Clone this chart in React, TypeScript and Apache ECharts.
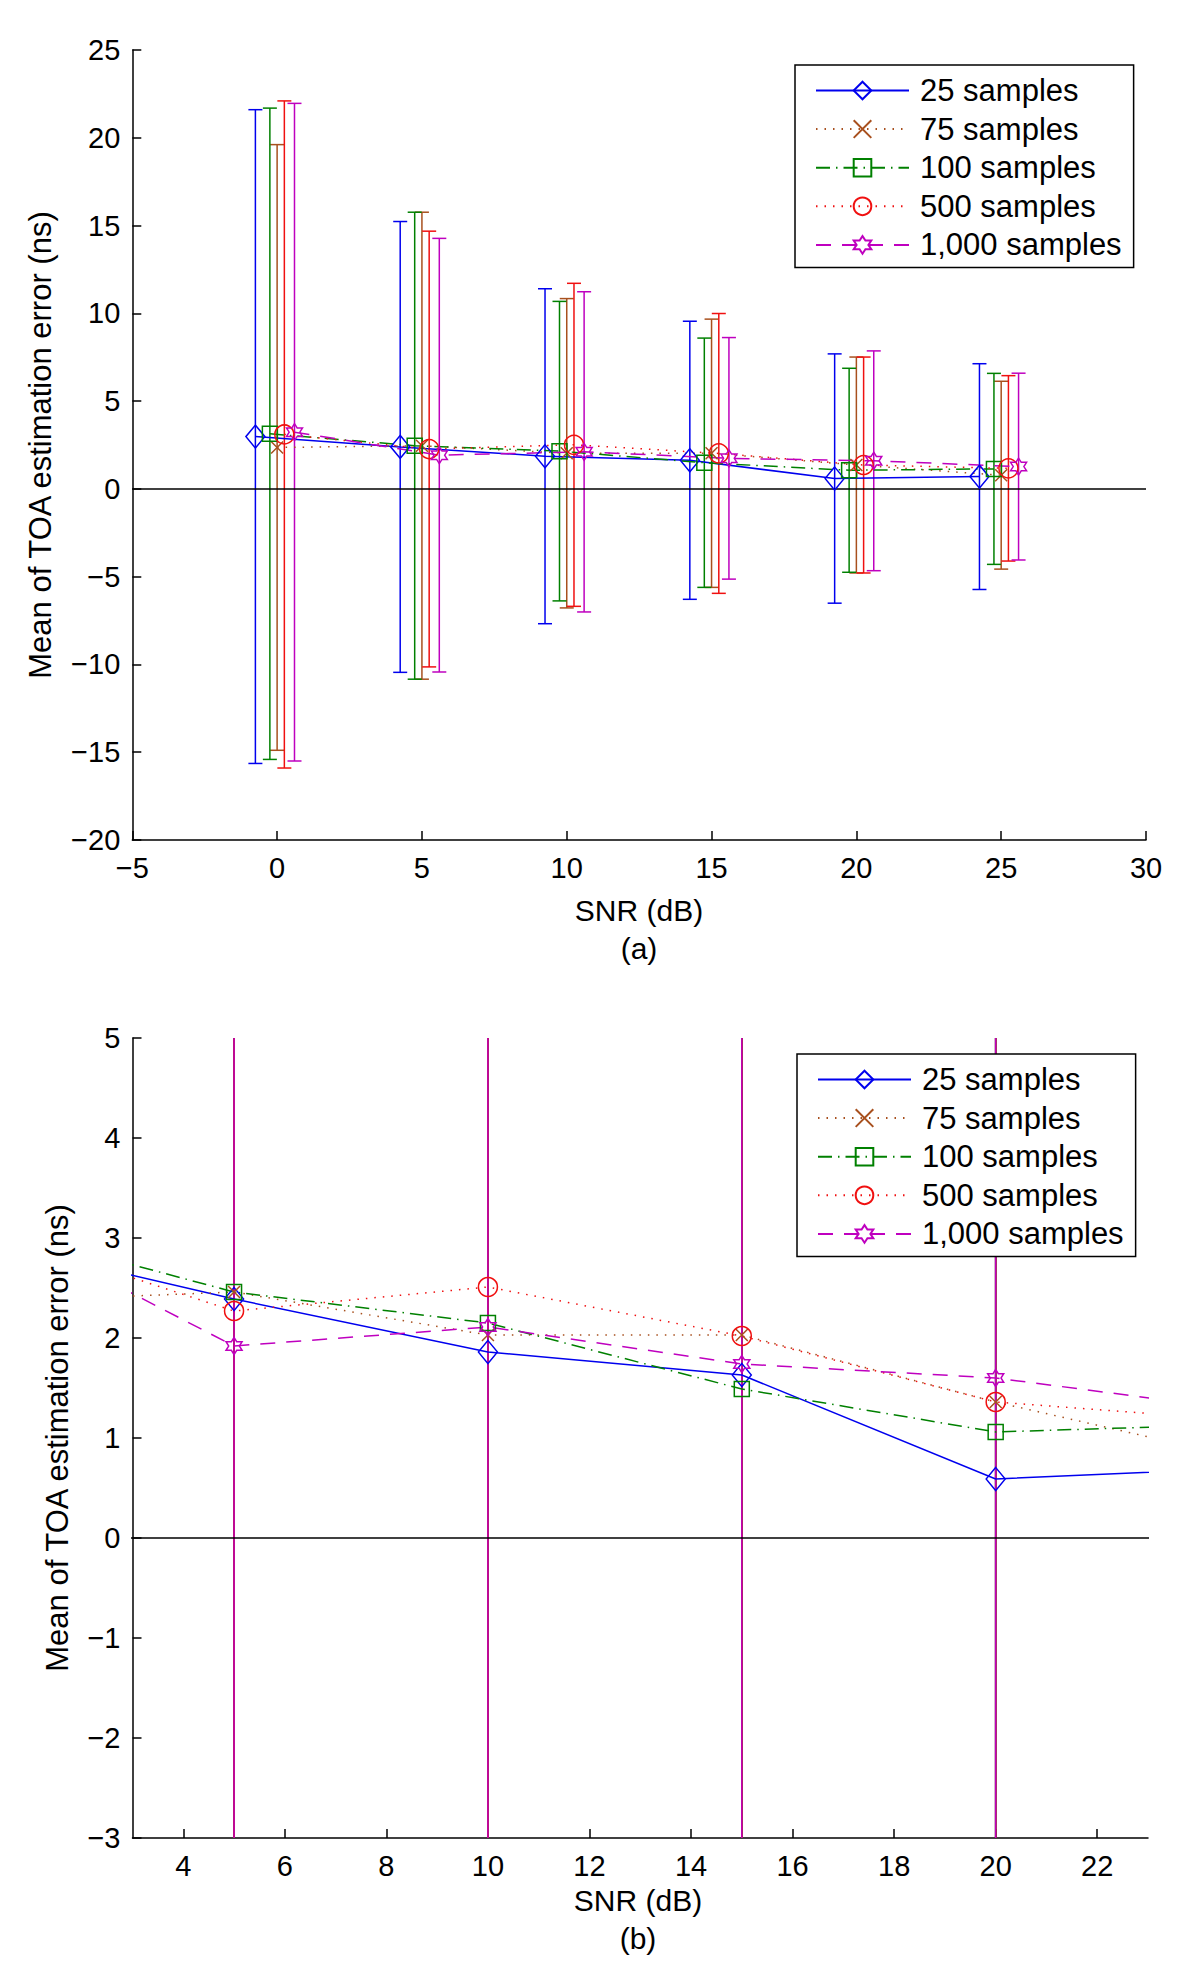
import React, { useEffect, useRef } from 'react';
import * as echarts from 'echarts';

// ---------- data ----------
const SNR = [0, 5, 10, 15, 20, 25];
const SERIES_NAMES = ['25 samples', '75 samples', '100 samples', '500 samples', '1,000 samples'];

const MEAN_25 = [2.98, 2.39, 1.86, 1.63, 0.59, 0.70];
const MEAN_75 = [2.36, 2.46, 2.03, 2.03, 1.36, 0.78];
const MEAN_100 = [3.14, 2.46, 2.15, 1.49, 1.06, 1.14];
const MEAN_500 = [3.10, 2.27, 2.51, 2.02, 1.36, 1.17];
const MEAN_1000 = [3.23, 1.92, 2.11, 1.74, 1.60, 1.27];

const STD_25 = [18.62, 12.84, 9.54, 7.92, 7.10, 6.43];
const STD_75 = [17.25, 13.30, 8.81, 7.64, 6.15, 5.35];
const STD_100 = [18.55, 13.30, 8.53, 7.10, 5.81, 5.44];
const STD_500 = [19.00, 12.41, 9.20, 7.97, 6.15, 5.28];
const STD_1000 = [18.73, 12.35, 9.12, 6.88, 6.26, 5.32];

// horizontal offsets used in panel (a) so the error bars do not overlap
const OFFSET_A = [-0.75, 0, -0.25, 0.25, 0.6];

const X_RANGE_A = [-5, 30];
const Y_RANGE_A = [-20, 25];
const X_RANGE_B = [3, 23];
const Y_RANGE_B = [-3, 5];
const X_TICKS_B = [4, 6, 8, 10, 12, 14, 16, 18, 20, 22];

const MEANS = [MEAN_25, MEAN_75, MEAN_100, MEAN_500, MEAN_1000];
const STDS = [STD_25, STD_75, STD_100, STD_500, STD_1000];

// ---------- styles ----------
const FONT = '"Liberation Sans", Arial, Helvetica, sans-serif';
const COLORS = ['#0000EE', '#A8501E', '#008000', '#F01010', '#BF00BF'];
const DASHES: any[] = ['solid', [1.5, 7], [14, 6, 1.5, 6], [1.5, 7], [15, 11]];
const HEXAGRAM =
  'path://M0,-100L28.87,-50L86.6,-50L57.74,0L86.6,50L28.87,50L0,100L-28.87,50L-86.6,50L-57.74,0L-86.6,-50L-28.87,-50Z';
const SYMBOLS = ['diamond', 'path://M0,0L10,10M10,0L0,10', 'rect', 'circle', HEXAGRAM];
const SYMBOL_SIZES: any[] = [[19, 23], 12, 15, 19, [16, 17]];

const minus = (v: number) => String(v).replace('-', '\u2212');

function errRender(color: string) {
  return (params: any, api: any) => {
    const x = api.value(0);
    const lo = api.value(1);
    const hi = api.value(2);
    const a = api.coord([x, hi]);
    const b = api.coord([x, lo]);
    const cap = 7;
    const style = { stroke: color, lineWidth: 1.5, fill: null };
    return {
      type: 'group',
      children: [
        { type: 'line', shape: { x1: a[0], y1: a[1], x2: b[0], y2: b[1] }, style },
        { type: 'line', shape: { x1: a[0] - cap, y1: a[1], x2: a[0] + cap, y2: a[1] }, style },
        { type: 'line', shape: { x1: b[0] - cap, y1: b[1], x2: b[0] + cap, y2: b[1] }, style },
      ],
    };
  };
}

function panelSeries(gi: number, offsets: number[] | null, xr: number[]) {
  const out: any[] = [];
  out.push({
    type: 'line',
    name: 'zero' + gi,
    xAxisIndex: gi,
    yAxisIndex: gi,
    data: [[xr[0], 0], [xr[1], 0]],
    symbol: 'none',
    lineStyle: { color: '#000', width: 1.5 },
    silent: true,
    emphasis: { disabled: true },
  });
  SERIES_NAMES.forEach((name, k) => {
    const xs = SNR.map((x) => x + (offsets ? offsets[k] : 0));
    const color = COLORS[k];
    out.push({
      type: 'custom',
      name: name + ' bars' + gi,
      xAxisIndex: gi,
      yAxisIndex: gi,
      clip: true,
      silent: true,
      data: xs.map((x, i) => [x, MEANS[k][i] - STDS[k][i], MEANS[k][i] + STDS[k][i]]),
      encode: { x: 0, y: [1, 2] },
      renderItem: errRender(color),
    });
    out.push({
      type: 'line',
      name,
      xAxisIndex: gi,
      yAxisIndex: gi,
      data: xs.map((x, i) => [x, MEANS[k][i]]),
      symbol: SYMBOLS[k],
      symbolSize: SYMBOL_SIZES[k],
      symbolKeepAspect: false,
      showAllSymbol: true,
      clip: true,
      silent: true,
      emphasis: { disabled: true },
      lineStyle: { color, width: 1.5, type: DASHES[k] },
      itemStyle: { color: 'rgba(0,0,0,0)', borderColor: color, borderWidth: 1.5 },
    });
  });
  return out;
}

const axisCommon = {
  type: 'value',
  axisLine: { show: true, onZero: false, lineStyle: { color: '#000', width: 1.5 } },
  axisTick: { show: true, inside: true, length: 9, lineStyle: { color: '#000', width: 1.5 } },
  splitLine: { show: false },
};

function legend(left: number, top: number) {
  return {
    data: SERIES_NAMES,
    orient: 'vertical',
    left,
    top,
    itemWidth: 93,
    itemHeight: 22,
    itemGap: 7.6,
    padding: [10, 12, 7, 20],
    backgroundColor: '#fff',
    borderColor: '#000',
    borderWidth: 1.5,
    borderRadius: 0,
    selectedMode: false,
    textStyle: { fontFamily: FONT, fontSize: 31, color: '#000', lineHeight: 30, padding: [0, 0, 0, 6] },
  };
}

function txt(text: string, x: number, y: number, size: number, rotation = 0) {
  return {
    type: 'text',
    x,
    y,
    rotation,
    silent: true,
    style: { text, x: 0, y: 0, align: 'center', verticalAlign: 'middle', fontSize: size, fontFamily: FONT, fill: '#000' },
  };
}

export default function App() {
  const ref = useRef<HTMLDivElement>(null);
  useEffect(() => {
    if (!ref.current) return;
    const chart = echarts.init(ref.current, undefined, { renderer: 'svg' });
    const labelStyle = { fontFamily: FONT, fontSize: 29, color: '#000', formatter: minus };
    chart.setOption({
      animation: false,
      backgroundColor: '#fff',
      grid: [
        { left: 132.3, top: 50, width: 1013.7, height: 790 },
        { left: 132.5, top: 1038, width: 1015.5, height: 800 },
      ],
      xAxis: [
        { ...axisCommon, gridIndex: 0, min: X_RANGE_A[0], max: X_RANGE_A[1], interval: 5, axisLabel: { ...labelStyle, margin: 13 } },
        {
          ...axisCommon,
          gridIndex: 1,
          min: X_RANGE_B[0],
          max: X_RANGE_B[1],
          axisTick: { ...axisCommon.axisTick, customValues: X_TICKS_B },
          axisLabel: { ...labelStyle, margin: 13, customValues: X_TICKS_B },
        },
      ],
      yAxis: [
        { ...axisCommon, gridIndex: 0, min: Y_RANGE_A[0], max: Y_RANGE_A[1], interval: 5, axisLabel: { ...labelStyle, margin: 12 } },
        { ...axisCommon, gridIndex: 1, min: Y_RANGE_B[0], max: Y_RANGE_B[1], interval: 1, axisLabel: { ...labelStyle, margin: 12 } },
      ],
      legend: [legend(795, 65), legend(797, 1054)],
      series: [...panelSeries(0, OFFSET_A, X_RANGE_A), ...panelSeries(1, null, [0, 25])],
      graphic: [
        txt('SNR (dB)', 639, 910, 30),
        txt('(a)', 639, 948, 30),
        txt('Mean of TOA estimation error (ns)', 40, 445, 31, Math.PI / 2),
        txt('SNR (dB)', 638, 1900, 30),
        txt('(b)', 638, 1938, 30),
        txt('Mean of TOA estimation error (ns)', 57, 1438, 31, Math.PI / 2),
      ],
    });
    return () => chart.dispose();
  }, []);
  return <div ref={ref} style={{ position: 'absolute', left: 0, top: 0, width: 1200, height: 1982 }} />;
}
